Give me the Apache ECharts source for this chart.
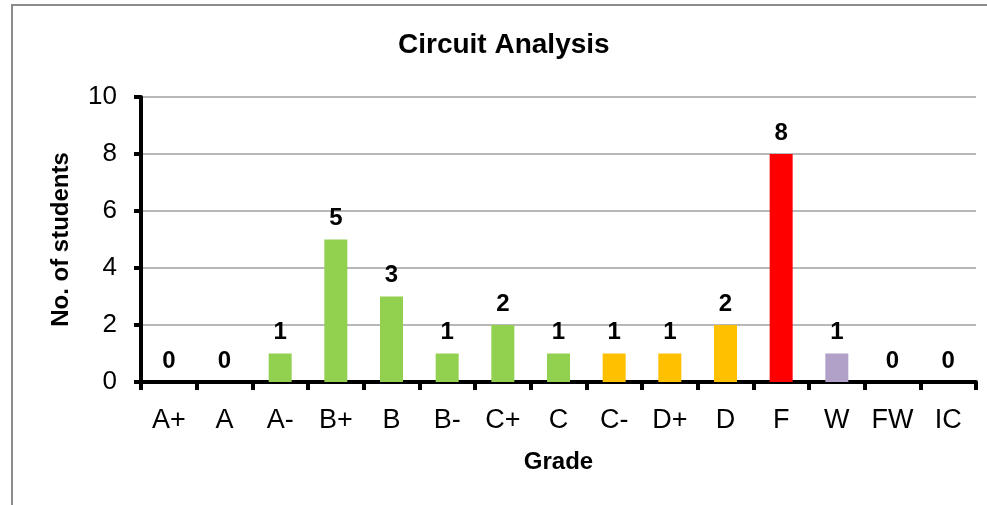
<!DOCTYPE html>
<html>
<head>
<meta charset="utf-8">
<title>Circuit Analysis</title>
<style>
  html, body { margin: 0; padding: 0; background: #fff; }
  #chart { width: 987px; height: 505px; }
</style>
</head>
<body>
<div id="chart"></div>
<script src="https://cdn.jsdelivr.net/npm/echarts@6/dist/echarts.min.js"></script>
<script>
var grades = ['A+', 'A', 'A-', 'B+', 'B', 'B-', 'C+', 'C', 'C-', 'D+', 'D', 'F', 'W', 'FW', 'IC'];
var students = [0, 0, 1, 5, 3, 1, 2, 1, 1, 1, 2, 8, 1, 0, 0];
var yTicks = [0, 2, 4, 6, 8, 10];

// bar colours per grade
var barColors = ['#92d050', '#92d050', '#92d050', '#92d050', '#92d050', '#92d050', '#92d050', '#92d050',
                 '#ffc000', '#ffc000', '#ffc000', '#ff0000', '#b1a0c7', '#b1a0c7', '#b1a0c7'];

var font = 'Liberation Sans, Arial, sans-serif';

var chart = echarts.init(document.getElementById('chart'));
chart.setOption({
    animation: false,
    backgroundColor: '#fff',
    graphic: [{
        type: 'rect',
        shape: { x: 12, y: 5, width: 1100, height: 700 },
        style: { fill: 'none', stroke: '#8c8c8c', lineWidth: 2 },
        silent: true
    }],
    title: {
        text: 'Circuit Analysis',
        left: 393,
        top: 26,
        textStyle: { fontFamily: font, fontSize: 28, fontWeight: 'bold', color: '#000' }
    },
    grid: { left: 141, right: 11, top: 97, bottom: 123 },
    xAxis: {
        type: 'category',
        data: grades,
        name: 'Grade',
        nameLocation: 'middle',
        nameGap: 68,
        nameTextStyle: { fontFamily: font, fontSize: 24, fontWeight: 'bold', color: '#000' },
        axisLine: { lineStyle: { color: '#000', width: 4 } },
        axisTick: { show: true, length: 8, lineStyle: { color: '#000', width: 4 } },
        axisLabel: { margin: 25, fontFamily: font, fontSize: 27, color: '#000' }
    },
    yAxis: {
        type: 'value',
        min: yTicks[0],
        max: yTicks[yTicks.length - 1],
        interval: yTicks[1] - yTicks[0],
        name: 'No. of students',
        nameLocation: 'middle',
        nameGap: 68,
        nameTextStyle: { fontFamily: font, fontSize: 24, fontWeight: 'bold', color: '#000' },
        axisLine: { show: true, lineStyle: { color: '#000', width: 4 } },
        axisTick: { show: true, length: 7, lineStyle: { color: '#000', width: 4 } },
        axisLabel: { margin: 24, fontFamily: font, fontSize: 26, color: '#000' },
        splitLine: { lineStyle: { color: '#a0a0a0', width: 1.5 } }
    },
    series: [{
        type: 'bar',
        barWidth: 23,
        data: students.map(function (v, i) {
            return { value: v, itemStyle: { color: barColors[i] } };
        }),
        label: {
            show: true,
            position: 'top',
            distance: 9,
            fontFamily: font,
            fontSize: 24,
            fontWeight: 'bold',
            color: '#000'
        }
    }]
});
</script>
</body>
</html>
